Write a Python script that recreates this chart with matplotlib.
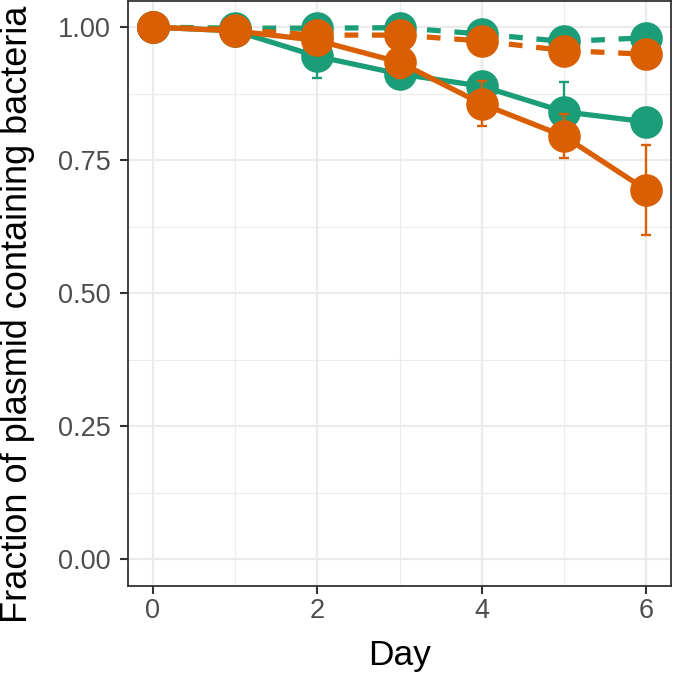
import matplotlib
matplotlib.use("Agg")
import matplotlib.pyplot as plt
from matplotlib.ticker import MultipleLocator

plt.rcParams['font.family'] = ['Liberation Sans', 'DejaVu Sans']

days = [0, 1, 2, 3, 4, 5, 6]

green_solid = [1.00, 0.993, 0.945, 0.912, 0.889, 0.841, 0.822]
green_solid_err = [0.0, 0.005, 0.040, 0.015, 0.010, 0.055, 0.0]
orange_solid = [1.00, 0.993, 0.975, 0.934, 0.856, 0.795, 0.694]
orange_solid_err = [0.0, 0.005, 0.010, 0.030, 0.042, 0.041, 0.084]

green_dashed = [1.00, 0.998, 0.998, 0.999, 0.987, 0.973, 0.980]
green_dashed_err = [0.0, 0.002, 0.006, 0.008, 0.006, 0.012, 0.004]
orange_dashed = [1.00, 0.995, 0.985, 0.985, 0.974, 0.956, 0.949]
orange_dashed_err = [0.0, 0.003, 0.005, 0.008, 0.006, 0.010, 0.004]

GREEN = '#1B9E77'
ORANGE = '#D95F02'

W, H = 675, 673
fig = plt.figure(figsize=(W/100, H/100), dpi=100)
L, R, T, B = 128, 671, 0.5, 586
ax = fig.add_axes([L/W, (H-B)/H, (R-L)/W, (B-T)/H])

ax.set_xlim(-0.3, 6.3)
ax.set_ylim(-0.05, 1.05)

ax.xaxis.set_major_locator(MultipleLocator(2))
ax.xaxis.set_minor_locator(MultipleLocator(1))
ax.yaxis.set_major_locator(MultipleLocator(0.25))
ax.yaxis.set_minor_locator(MultipleLocator(0.125))
ax.grid(which='major', color='#EBEBEB', linewidth=1.6, zorder=0)
ax.grid(which='minor', color='#EBEBEB', linewidth=0.8, zorder=0)
ax.set_axisbelow(True)

lw = 3.8
ms = 23.5
dash = (2.6, 2.6)

def series(y, err, color, dashed, z):
    ax.errorbar(days, y, yerr=err, fmt='none', ecolor=color, elinewidth=1.7,
                capsize=3.5, capthick=1.7, zorder=z)
    line, = ax.plot(days, y, color=color, linewidth=lw, marker='o', markersize=ms,
                    markeredgewidth=0, zorder=z, solid_capstyle='butt',
                    dash_capstyle='butt')
    if dashed:
        line.set_linestyle((0, dash))

series(green_solid, green_solid_err, GREEN, False, 3)
series(green_dashed, green_dashed_err, GREEN, True, 3)
series(orange_solid, orange_solid_err, ORANGE, False, 4)
series(orange_dashed, orange_dashed_err, ORANGE, True, 4)

ax.set_xticks([0, 2, 4, 6])
ax.set_xticklabels(['0', '2', '4', '6'])
ax.set_yticks([0, 0.25, 0.5, 0.75, 1.0])
ax.set_yticklabels(['0.00', '0.25', '0.50', '0.75', '1.00'])

ax.tick_params(axis='both', which='major', labelsize=19.5, labelcolor='#4D4D4D',
               color='#333333', length=5.8, width=1.5)
ax.tick_params(axis='x', which='major', pad=2.5)
ax.tick_params(axis='y', which='major', pad=6.5)
ax.tick_params(axis='both', which='minor', length=0)

for s in ax.spines.values():
    s.set_color('#333333')
    s.set_linewidth(1.3)

fig.text((L + R) / 2 / W, (H - 665) / H, 'Day', fontsize=25.5, color='black',
         ha='center', va='baseline')
fig.text(0.0 / W, (H - 314) / H, 'Fraction of plasmid containing bacteria',
         fontsize=26, color='black', rotation=90, ha='left', va='center')

fig.savefig('out.png', dpi=100)
